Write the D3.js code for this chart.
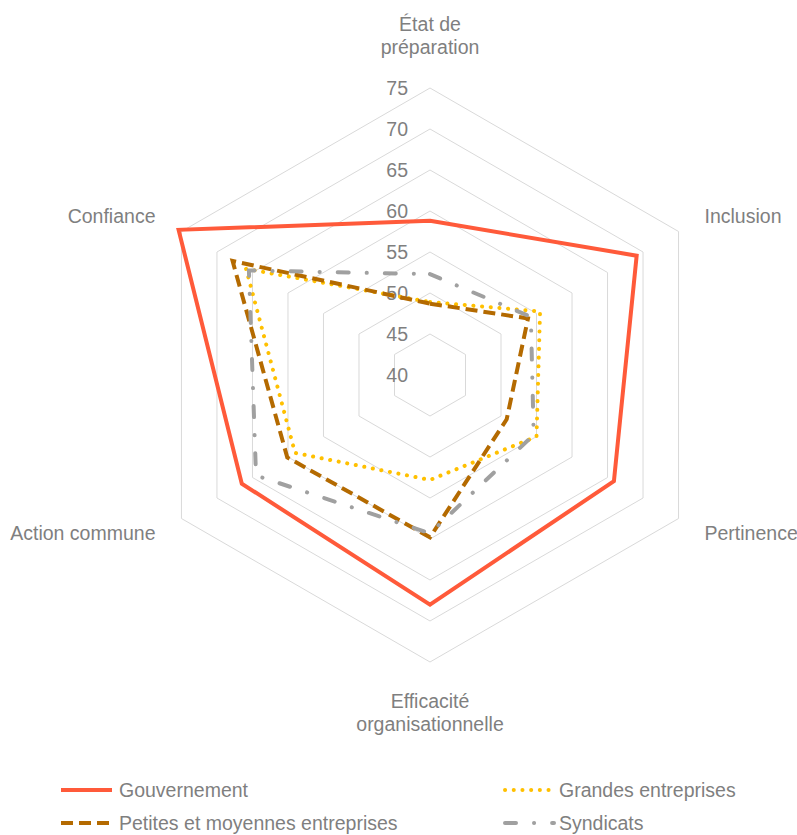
<!DOCTYPE html>
<html>
<head>
<meta charset="utf-8">
<script src="https://cdn.jsdelivr.net/npm/d3@7"></script>
<style>
  html, body { margin: 0; padding: 0; background: #fff; }
  svg { display: block; }
  text { font-family: "Liberation Sans", Arial, sans-serif; fill: #7f7f7f; }
</style>
</head>
<body>
<svg id="chart" width="797" height="835"></svg>
<script>
const categories = [
  ["État de", "préparation"],
  ["Inclusion"],
  ["Pertinence"],
  ["Efficacité", "organisationnelle"],
  ["Action commune"],
  ["Confiance"]
];
const tickValues = [40, 45, 50, 55, 60, 65, 70, 75];
const seriesNames = ["Gouvernement", "Grandes entreprises", "Petites et moyennes entreprises", "Syndicats"];
const gouvernement = [58.8, 69.1, 65.9, 68.0, 66.5, 75.4];
const grandesEntreprises = [48.9, 55.5, 55.0, 52.8, 59.0, 65.9];
const pme = [48.7, 53.8, 50.8, 59.8, 60.1, 67.8];
const syndicats = [52.3, 54.2, 54.6, 59.3, 64.5, 65.5];

const seriesValues = [gouvernement, grandesEntreprises, pme, syndicats];
const styles = [
  { color: "#FF5A3A", width: 4, dash: null, cap: "butt" },
  { color: "#FFC000", width: 4, dash: "0.1,8.6", cap: "round" },
  { color: "#B46A00", width: 4, dash: "12,6", cap: "butt" },
  { color: "#A0A0A0", width: 4, dash: "11,18,0.1,18", cap: "round" }
];

const svg = d3.select("#chart");
const cx = 430, cy = 375;
const r = d3.scaleLinear().domain([40, 75]).range([0, 287]);
const n = categories.length;
const angle = i => i * 2 * Math.PI / n;
const fs = 19.5;

const g = svg.append("g").attr("transform", `translate(${cx},${cy})`);

// grid
const gridLine = d3.lineRadial()
  .angle((d, i) => angle(i))
  .radius(d => r(d))
  .curve(d3.curveLinearClosed);

g.selectAll("path.grid")
  .data(tickValues.filter(v => v > 40))
  .join("path")
  .attr("class", "grid")
  .attr("d", v => gridLine(d3.range(n).map(() => v)))
  .attr("fill", "none")
  .attr("stroke", "#D9D9D9")
  .attr("stroke-width", 1);

// tick labels
g.selectAll("text.tick")
  .data(tickValues)
  .join("text")
  .attr("class", "tick")
  .attr("x", -22)
  .attr("y", v => -r(v))
  .attr("dy", "0.35em")
  .attr("text-anchor", "end")
  .attr("font-size", fs)
  .text(v => v);

// category labels
const labelR = 317;
categories.forEach((lines, i) => {
  const a = angle(i);
  const x = labelR * Math.sin(a);
  const y = -labelR * Math.cos(a);
  const t = g.append("text").attr("font-size", fs);
  let anchor = "middle";
  if (Math.sin(a) > 0.1) anchor = "start";
  else if (Math.sin(a) < -0.1) anchor = "end";
  t.attr("text-anchor", anchor);
  const lh = 23;
  let y0;
  if (Math.abs(Math.sin(a)) > 0.1) y0 = y;
  else if (Math.cos(a) > 0) y0 = y - 11 - lh * (lines.length - 1);
  else y0 = y + 9;
  lines.forEach((s, k) => {
    t.append("tspan").attr("x", x).attr("y", y0 + k * lh).attr("dy", "0.35em").text(s);
  });
});

// series
const line = d3.lineRadial()
  .angle((d, i) => angle(i))
  .radius(d => r(d))
  .curve(d3.curveLinearClosed);

g.selectAll("path.series")
  .data(seriesValues)
  .join("path")
  .attr("class", "series")
  .attr("d", d => line(d))
  .attr("fill", "none")
  .attr("stroke", (d, i) => styles[i].color)
  .attr("stroke-width", (d, i) => styles[i].width)
  .attr("stroke-dasharray", (d, i) => styles[i].dash)
  .attr("stroke-linecap", (d, i) => styles[i].cap)
  .attr("stroke-linejoin", "miter");

// legend
const legendPos = [
  { x: 61, y: 790 },
  { x: 503, y: 790 },
  { x: 61, y: 823 },
  { x: 503, y: 823 }
];
seriesNames.forEach((name, i) => {
  const p = legendPos[i];
  const s = styles[i];
  svg.append("line")
    .attr("x1", p.x + (s.cap === "round" ? 2 : 0)).attr("x2", p.x + 51)
    .attr("y1", p.y).attr("y2", p.y)
    .attr("stroke", s.color)
    .attr("stroke-width", s.width)
    .attr("stroke-dasharray", s.dash)
    .attr("stroke-linecap", s.cap);
  svg.append("text")
    .attr("x", p.x + (i % 2 === 0 ? 58 : 56))
    .attr("y", p.y)
    .attr("dy", "0.35em")
    .attr("font-size", fs)
    .text(name);
});
</script>
</body>
</html>
